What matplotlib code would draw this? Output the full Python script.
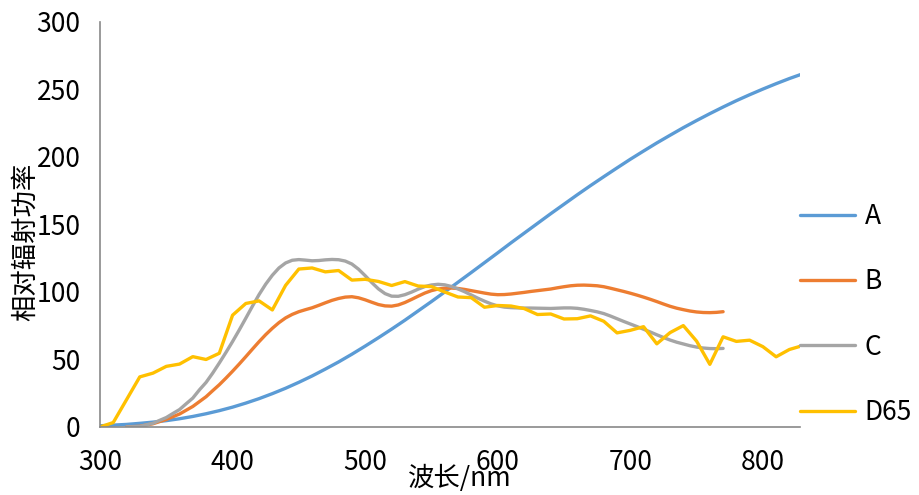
import matplotlib
matplotlib.use('Agg')
import matplotlib.pyplot as plt

plt.rcParams['font.family'] = ['Noto Sans CJK SC', 'DejaVu Sans']

# wavelengths (nm)
wl_a = list(range(300, 831, 10))
wl_bc = list(range(320, 771, 5))
wl_d = list(range(300, 831, 10))

# relative spectral power
a_vals = [0.9, 1.4, 1.9, 2.7, 3.6, 4.7, 6.1, 7.8, 9.8, 12.1,
          14.7, 17.7, 21.0, 24.7, 28.7, 33.1, 37.8, 42.9, 48.2, 53.9,
          59.9, 66.1, 72.5, 79.1, 86.0, 92.9, 100.0, 107.2, 114.4, 121.7,
          129.0, 136.4, 143.6, 150.8, 158.0, 165.0, 172.0, 178.8, 185.4, 191.9,
          198.3, 204.4, 210.4, 216.1, 221.7, 227.0, 232.1, 237.0, 241.7, 246.1,
          250.3, 254.3, 258.1, 261.6]
b_vals = [0.0, 0.3, 0.5, 1.5, 2.4, 4.0, 5.6, 7.6, 9.6, 12.4,
          15.2, 18.8, 22.4, 26.9, 31.3, 36.2, 41.3, 46.6, 52.1, 57.7,
          63.2, 68.4, 73.1, 77.3, 80.8, 83.4, 85.4, 86.9, 88.3, 90.1,
          92.0, 93.8, 95.2, 96.2, 96.5, 95.7, 94.2, 92.4, 90.7, 89.7,
          89.5, 90.4, 92.2, 94.5, 96.9, 99.2, 101.0, 102.2, 102.8, 102.9,
          102.6, 101.9, 101.0, 100.1, 99.2, 98.4, 98.0, 98.1, 98.5, 99.1,
          99.7, 100.4, 101.0, 101.6, 102.2, 103.1, 103.9, 104.6, 105.0, 105.1,
          104.9, 104.6, 103.9, 102.8, 101.6, 100.4, 99.1, 97.7, 96.2, 94.6,
          92.9, 91.1, 89.4, 88.0, 86.9, 85.9, 85.2, 84.8, 84.7, 84.9,
          85.4]
c_vals = [0.0, 0.2, 0.4, 1.6, 2.7, 4.9, 7.0, 10.0, 12.9, 17.2,
          21.4, 27.5, 33.0, 39.9, 47.4, 55.2, 63.3, 71.8, 80.6, 89.5,
          98.1, 105.8, 112.4, 117.8, 121.5, 123.5, 124.0, 123.6, 123.1, 123.3,
          123.8, 124.1, 123.9, 122.9, 120.7, 116.9, 112.1, 107.0, 102.3, 98.8,
          96.9, 96.8, 98.0, 99.9, 102.1, 104.0, 105.2, 105.7, 105.3, 104.1,
          102.3, 100.2, 97.8, 95.4, 93.2, 91.2, 89.7, 88.8, 88.4, 88.2,
          88.1, 88.1, 88.0, 87.9, 87.8, 88.0, 88.2, 88.2, 87.9, 87.2,
          86.3, 85.3, 84.0, 82.2, 80.2, 78.2, 76.3, 74.4, 72.4, 70.4,
          68.3, 66.3, 64.4, 62.8, 61.5, 60.2, 59.2, 58.5, 58.1, 58.0,
          58.2]
d65_vals = [0.0, 3.3, 20.2, 37.1, 39.9, 44.9, 46.6, 52.1, 50.0, 54.6,
            82.8, 91.5, 93.4, 86.7, 104.9, 117.0, 117.8, 114.9, 115.9, 108.8,
            109.4, 107.8, 104.8, 107.7, 104.4, 104.0, 100.0, 96.3, 95.8, 88.7,
            90.0, 89.6, 87.7, 83.3, 83.7, 80.0, 80.2, 82.3, 78.3, 69.7,
            71.6, 74.3, 61.6, 69.9, 75.1, 63.6, 46.4, 66.8, 63.4, 64.3,
            59.5, 52.0, 57.4, 60.3]

xticks = [300, 400, 500, 600, 700, 800]
yticks = [0, 50, 100, 150, 200, 250, 300]

fig = plt.figure(figsize=(9.19, 4.95), dpi=100)
ax = fig.add_axes([0.1088, 0.1374, 0.7617, 0.8182])

lw = 2.4
ax.plot(wl_a, a_vals, color='#5B9BD5', lw=lw, label='A', solid_capstyle='round')
ax.plot(wl_bc, b_vals, color='#ED7D31', lw=lw, label='B', solid_capstyle='round')
ax.plot(wl_bc, c_vals, color='#A5A5A5', lw=lw, label='C', solid_capstyle='round')
ax.plot(wl_d, d65_vals, color='#FFC000', lw=lw, label='D65', solid_capstyle='round')

ax.set_xlim(300, 828)
ax.set_ylim(0, 300)
ax.set_xticks(xticks)
ax.set_yticks(yticks)
ax.tick_params(length=0, labelsize=19, colors='black')
ax.tick_params(axis='x', pad=16)
ax.tick_params(axis='y', pad=14)

for s in ['top', 'right']:
    ax.spines[s].set_visible(False)
for s in ['left', 'bottom']:
    ax.spines[s].set_color('#898989')
    ax.spines[s].set_linewidth(1.2)

fig.text(0.5, 1 - 478 / 495, '波长/nm', fontsize=19, ha='center', va='center')
fig.text(25 / 919, 1 - 242 / 495, '相对辐射功率', fontsize=19, rotation=90,
         ha='center', va='center')

ax.legend(loc='center left', bbox_to_anchor=(0.8705, 0.3646),
          bbox_transform=fig.transFigure, frameon=False, fontsize=19,
          handlelength=2.1, handletextpad=0.35, labelspacing=1.45,
          borderpad=0, borderaxespad=0)

fig.savefig('out.png', dpi=100)
